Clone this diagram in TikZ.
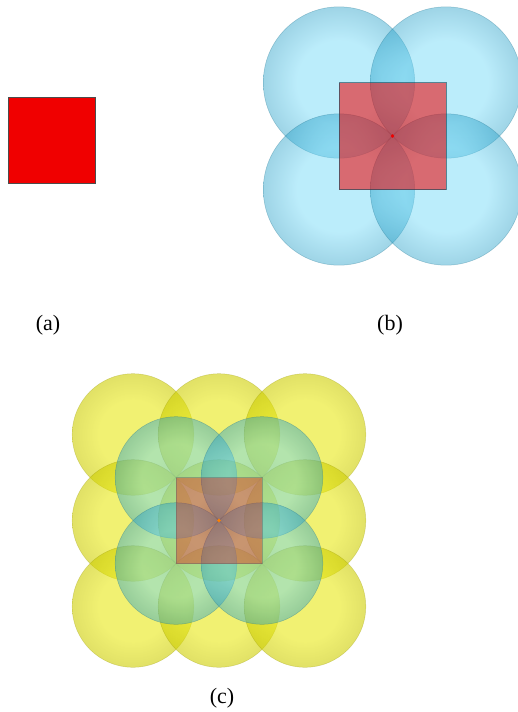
\documentclass[tikz,border=0pt]{standalone}
\usepackage{fontspec}
\setmainfont{Liberation Serif}
\usetikzlibrary{positioning}
\definecolor{cyanin}{RGB}{105,214,246}
\definecolor{cyanout}{RGB}{40,160,200}
\definecolor{yellowin}{RGB}{232,232,20}
\definecolor{yellowout}{RGB}{205,205,0}
\definecolor{sqred}{RGB}{240,0,0}
\pgfdeclareradialshading{cyanshade}{\pgfpoint{0bp}{0bp}}{color(0bp)=(cyanin); color(14bp)=(cyanin); color(25bp)=(cyanout); color(50bp)=(cyanout)}
\pgfdeclareradialshading{yellowshade}{\pgfpoint{0bp}{0bp}}{color(0bp)=(yellowin); color(14bp)=(yellowin); color(25bp)=(yellowout); color(50bp)=(yellowout)}

\begin{document}
\begin{tikzpicture}[x=1pt, y=-1pt,
    cyanball/.style={shading=cyanshade, fill opacity=0.45, draw=cyanout!70!black, draw opacity=0.35, line width=0.5pt},
    yellowball/.style={shading=yellowshade, fill opacity=0.6, draw=yellowout!70!black, draw opacity=0.3, line width=0.5pt},
    redsq/.style={fill=sqred, draw=black!70, line width=0.6pt},
    caption/.style={font=\fontsize{22}{26}\selectfont}]
    \useasboundingbox (0,0) rectangle (518,712);

    \filldraw[redsq] (8,97) rectangle (95,183);

    \foreach \x/\y in {339/82.5, 446/82.5, 339/189.5, 446/189.5}
        \shadedraw[cyanball] (\x,\y) circle [radius=75.7pt];
    \filldraw[redsq, fill opacity=0.55, draw=cyanout!40!black, draw opacity=0.6] (339,82.5) rectangle (446,189.5);
    \fill[sqred] (392.5,136) circle [radius=1.8pt];

    \foreach \i in {-1,0,1}
        \foreach \j in {-1,0,1}
            \shadedraw[yellowball] ({219+86*\i},{520.5+86*\j}) circle [radius=60.8pt];
    \foreach \i in {-1,1}
        \foreach \j in {-1,1}
            \shadedraw[cyanball] ({219+43*\i},{520.5+43*\j}) circle [radius=60.8pt];
    \filldraw[redsq, fill opacity=0.35, draw=black!60, draw opacity=0.5] (176,477.5) rectangle (262,563.5);
    \fill[orange] (219,520.5) circle [radius=1.8pt];

    \node[caption] (la) at (48,325) {(a)};
    \node[caption] (lb) at (390,325) {(b)};
    \node[caption] (lc) at (222,698) {(c)};
\end{tikzpicture}
\end{document}
